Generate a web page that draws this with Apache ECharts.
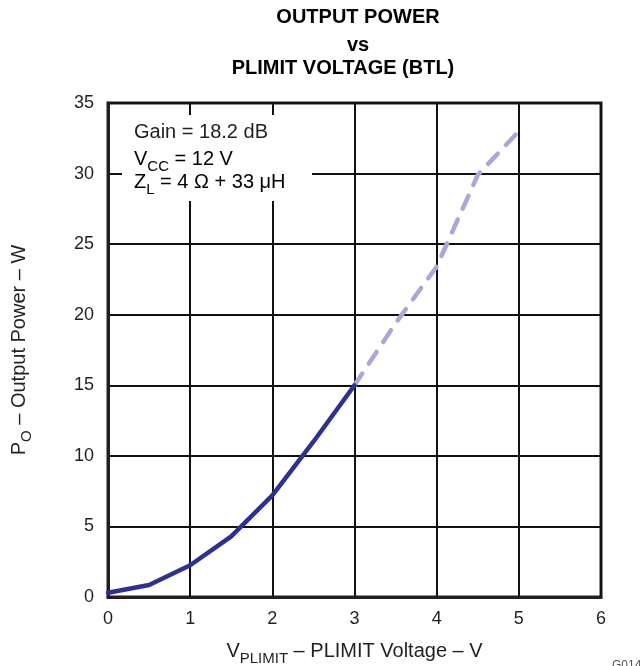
<!DOCTYPE html>
<html>
<head>
<meta charset="utf-8">
<script src="https://cdn.jsdelivr.net/npm/echarts@6/dist/echarts.min.js"></script>
<style>html,body{margin:0;padding:0;background:#fff}#c{width:643px;height:666px}</style>
</head>
<body>
<div id="c"></div>
<script>
// Data
var vSolid = [0, 0.5, 1, 1.5, 2, 2.5, 3];
var pSolid = [0.3, 0.85, 2.25, 4.3, 7.2, 11.0, 15.0];
var vDashed = [3, 3.5, 4, 4.5, 5];
var pDashed = [15.0, 19.4, 23.4, 29.9, 33.0];
var xTicks = [0, 1, 2, 3, 4, 5, 6];
var yTicks = [0, 5, 10, 15, 20, 25, 30, 35];
var titleLines = ['OUTPUT POWER', 'vs', 'PLIMIT VOLTAGE (BTL)'];

function pairs(xs, ys) { return xs.map(function (x, i) { return [x, ys[i]]; }); }

var FONT = 'Liberation Sans, Arial, Helvetica, sans-serif';
var INK = '#231f20';

var chart = echarts.init(document.getElementById('c'), null, { renderer: 'canvas' });
var richMain = { fontFamily: FONT, fontSize: 20, color: INK, lineHeight: 20, verticalAlign: 'middle' };
var richSub = { fontFamily: FONT, fontSize: 15, color: INK, lineHeight: 30, verticalAlign: 'bottom' };

chart.setOption({
  animation: false,
  backgroundColor: '#fff',
  grid: { left: 108, right: 42, top: 103, bottom: 69, outerBoundsMode: 'none', containLabel: false,
          show: true, borderColor: INK, borderWidth: 3, backgroundColor: 'transparent' },
  xAxis: {
    type: 'value', min: xTicks[0], max: xTicks[xTicks.length - 1], interval: 1,
    axisLine: { show: true, lineStyle: { color: INK, width: 3 } },
    axisTick: { show: false },
    axisLabel: { color: INK, fontFamily: FONT, fontSize: 18, margin: 13 },
    splitLine: { show: true, lineStyle: { color: '#111', width: 2 } },
    name: '{a|V}{b|PLIMIT}{a| – PLIMIT Voltage – V}',
    nameLocation: 'middle', nameGap: 39,
    nameTextStyle: { rich: { a: richMain, b: richSub } }
  },
  yAxis: {
    type: 'value', min: yTicks[0], max: yTicks[yTicks.length - 1], interval: 5,
    axisLine: { show: true, lineStyle: { color: INK, width: 3 } },
    axisTick: { show: false },
    axisLabel: { color: INK, fontFamily: FONT, fontSize: 18, margin: 14 },
    splitLine: { show: true, lineStyle: { color: '#111', width: 2 } },
    name: '{a|P}{b|O}{a| – Output Power – W}',
    nameLocation: 'middle', nameGap: 74, nameRotate: 90,
    nameTextStyle: { rich: { a: richMain, b: richSub } }
  },
  graphic: [
    { type: 'text', style: { x: 358, y: 7, text: titleLines[0], font: 'bold 20px ' + FONT, fill: '#000', align: 'center', verticalAlign: 'top' }, z: 10 },
    { type: 'text', style: { x: 358, y: 35, text: titleLines[1], font: 'bold 20px ' + FONT, fill: '#000', align: 'center', verticalAlign: 'top' }, z: 10 },
    { type: 'text', style: { x: 343, y: 58, text: titleLines[2], font: 'bold 20px ' + FONT, fill: '#000', align: 'center', verticalAlign: 'top' }, z: 10 },
    { type: 'rect', shape: { x: 122, y: 115, width: 190, height: 86 }, style: { fill: '#fff' }, z: 5 },
    { type: 'text', style: { x: 134, y: 132, text: 'Gain = 18.2 dB', font: '20px ' + FONT, fill: INK, verticalAlign: 'middle' }, z: 6 },
    { type: 'text', style: { x: 134, y: 159, text: '{a|V}{b|CC}{a| = 12 V}', rich: { a: richMain, b: richSub }, verticalAlign: 'middle' }, z: 6 },
    { type: 'text', style: { x: 134, y: 182, text: '{a|Z}{b|L}{a| = 4 Ω + 33 μH}', rich: { a: richMain, b: richSub }, verticalAlign: 'middle' }, z: 6 },
    { type: 'text', style: { x: 612, y: 660, text: 'G014', font: '12px ' + FONT, fill: '#555', verticalAlign: 'top' }, z: 6 }
  ],
  series: [
    { type: 'line', data: pairs(vSolid, pSolid), showSymbol: false, symbol: 'none', smooth: false,
      lineStyle: { color: '#2e3192', width: 4.5, cap: 'round', join: 'round' }, z: 3 },
    { type: 'line', data: pairs(vDashed, pDashed), showSymbol: false, symbol: 'none',
      lineStyle: { color: '#a9a8d6', width: 4.5, type: [14, 12], cap: 'round', join: 'round' }, z: 2 }
  ]
});
</script>
</body>
</html>
